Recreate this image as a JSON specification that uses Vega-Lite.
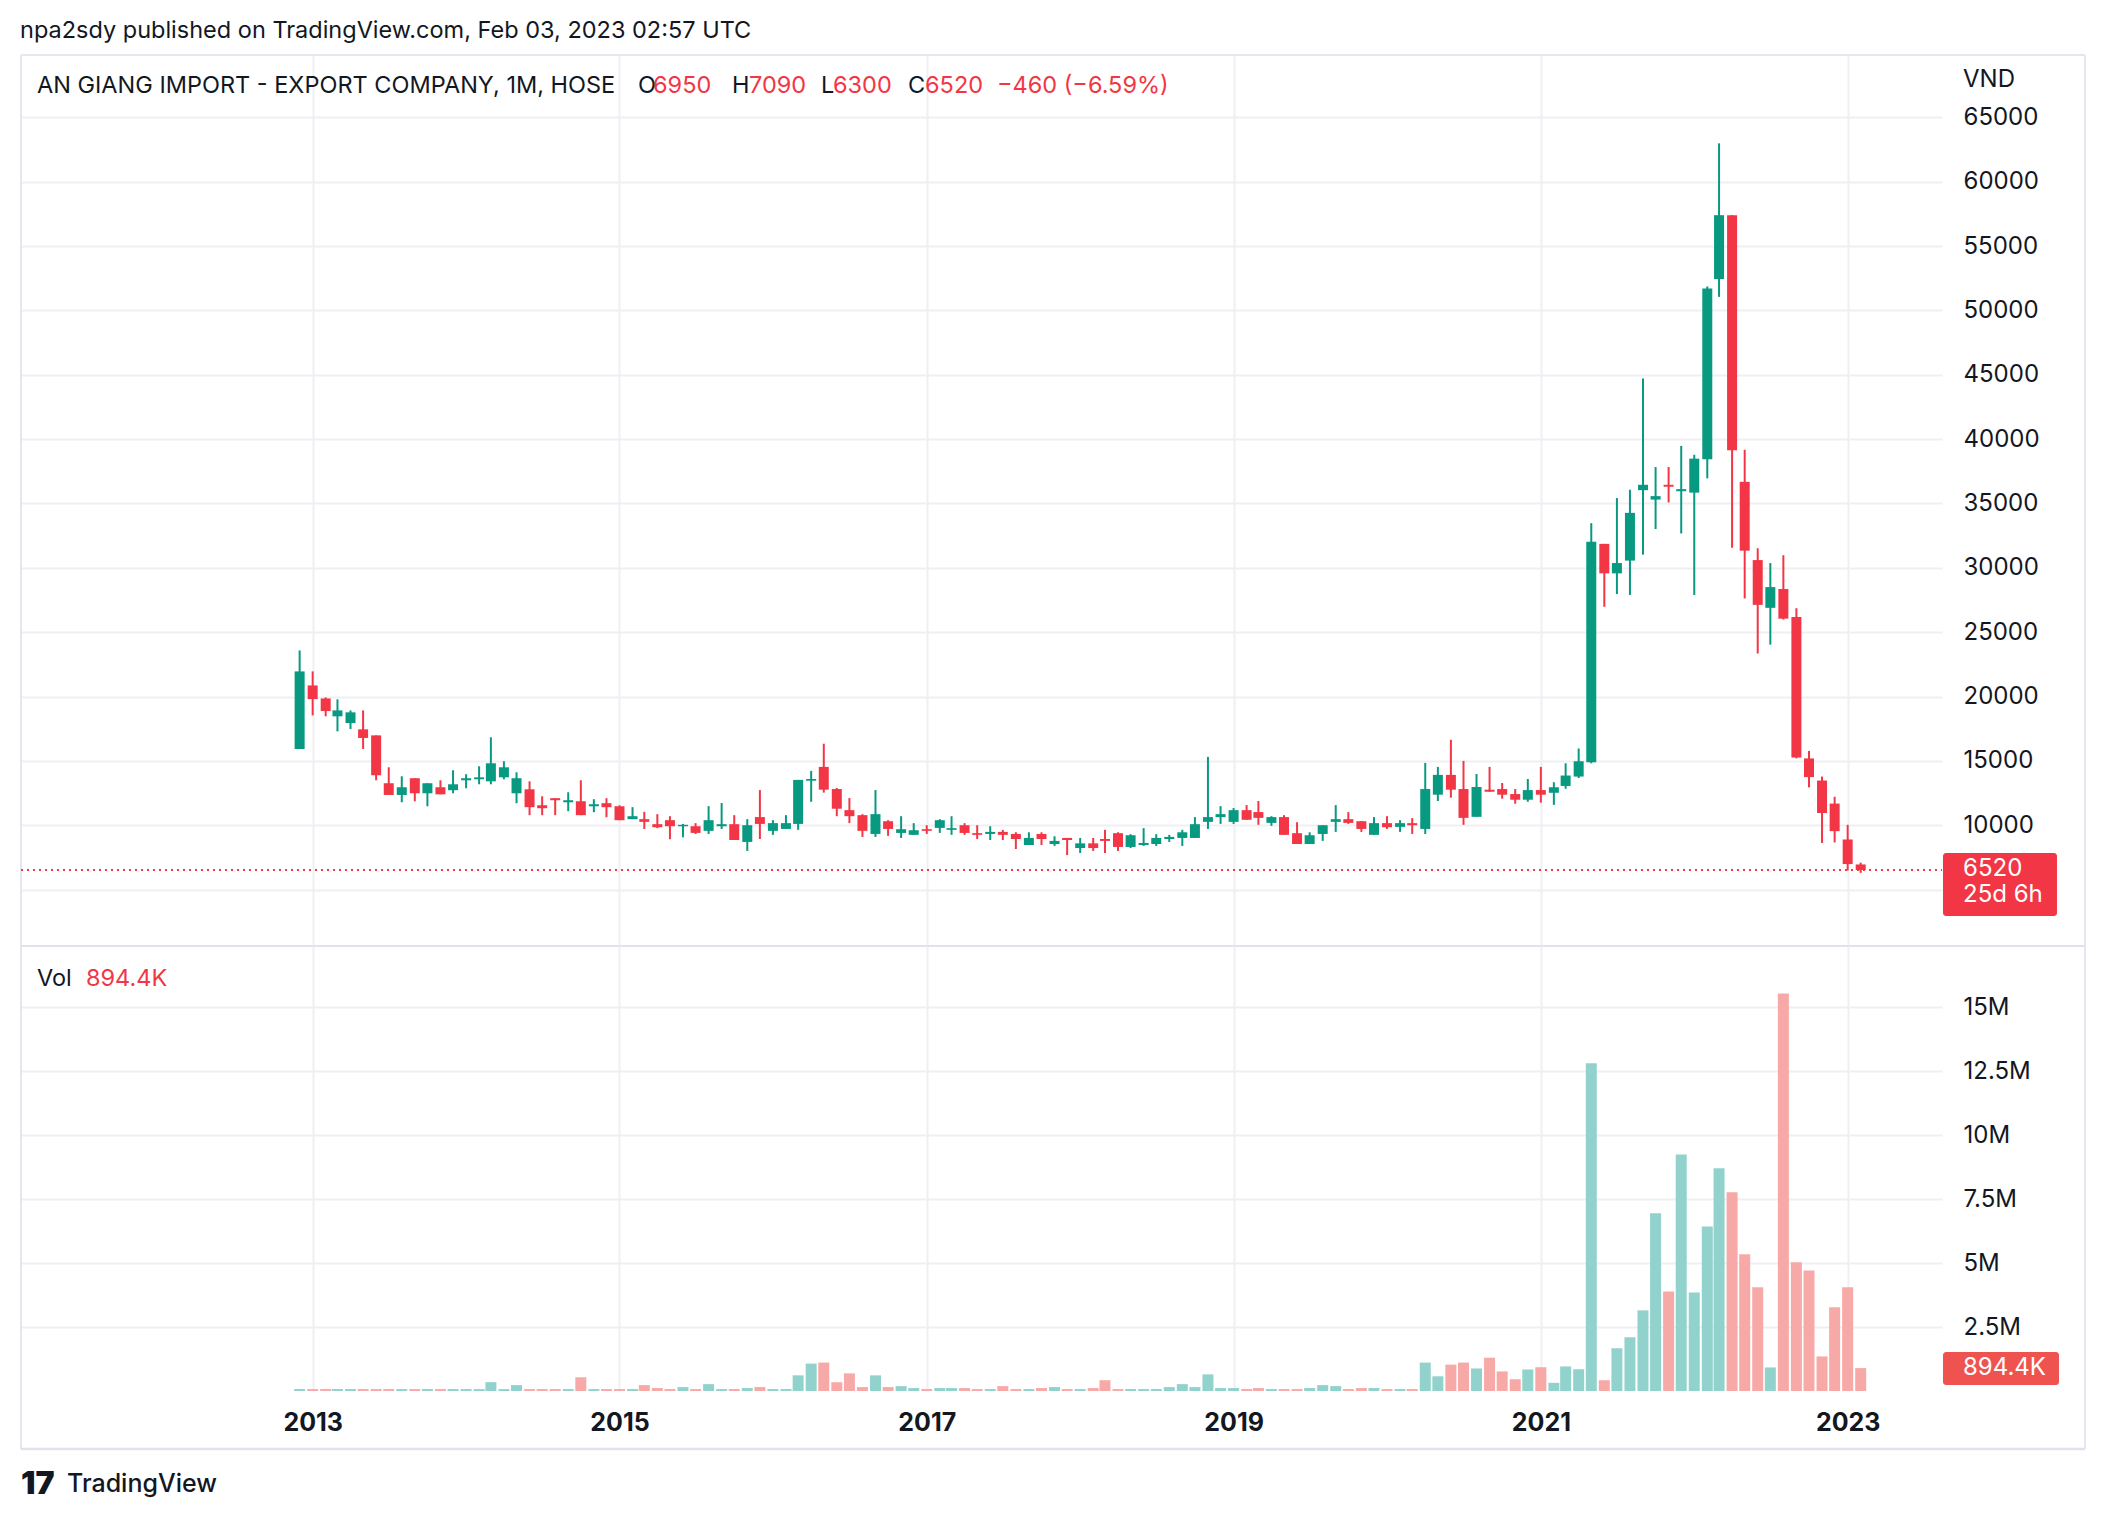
{
  "$schema": "https://vega.github.io/schema/vega-lite/v6.json",
  "padding": 0,
  "spacing": 0,
  "bounds": "flush",
  "background": "white",
  "config": {
    "view": {"stroke": null},
    "font": "Inter",
    "scale": {"continuousPadding": 0},
    "axis": {"labelFont": "Inter", "labelColor": "#131722", "labelFontSize": 24, "gridColor": "#F0F0F3", "gridWidth": 2, "domain": false, "ticks": false, "tickSize": 0}
  },
  "datasets": {
    "ohlc": [
      {"d": "2012-12-01T00:00", "o": 15920, "h": 23580, "l": 15920, "c": 21950, "v": 75000},
      {"d": "2013-01-01T00:00", "o": 20860, "h": 21950, "l": 18530, "c": 19800, "v": 75000},
      {"d": "2013-02-01T00:00", "o": 19850, "h": 19930, "l": 18460, "c": 18870, "v": 75000},
      {"d": "2013-03-01T00:00", "o": 18460, "h": 19780, "l": 17290, "c": 18920, "v": 75000},
      {"d": "2013-04-01T00:00", "o": 17940, "h": 18920, "l": 17470, "c": 18770, "v": 75000},
      {"d": "2013-05-01T00:00", "o": 17450, "h": 18920, "l": 15920, "c": 16780, "v": 75000},
      {"d": "2013-06-01T00:00", "o": 16980, "h": 16980, "l": 13490, "c": 13880, "v": 75000},
      {"d": "2013-07-01T00:00", "o": 13260, "h": 14500, "l": 12350, "c": 12350, "v": 75000},
      {"d": "2013-08-01T00:00", "o": 12350, "h": 13800, "l": 11780, "c": 12950, "v": 75000},
      {"d": "2013-09-01T00:00", "o": 13650, "h": 13650, "l": 11860, "c": 12480, "v": 75000},
      {"d": "2013-10-01T00:00", "o": 12480, "h": 13260, "l": 11470, "c": 13260, "v": 75000},
      {"d": "2013-11-01T00:00", "o": 12950, "h": 13490, "l": 12400, "c": 12400, "v": 75000},
      {"d": "2013-12-01T00:00", "o": 12720, "h": 14270, "l": 12480, "c": 13180, "v": 75000},
      {"d": "2014-01-01T00:00", "o": 13490, "h": 13960, "l": 12870, "c": 13650, "v": 75000},
      {"d": "2014-02-01T00:00", "o": 13570, "h": 14580, "l": 13180, "c": 13720, "v": 75000},
      {"d": "2014-03-01T00:00", "o": 13410, "h": 16830, "l": 13180, "c": 14810, "v": 344000},
      {"d": "2014-04-01T00:00", "o": 13720, "h": 14970, "l": 13570, "c": 14500, "v": 75000},
      {"d": "2014-05-01T00:00", "o": 12480, "h": 14110, "l": 11710, "c": 13650, "v": 230000},
      {"d": "2014-06-01T00:00", "o": 12790, "h": 13410, "l": 10780, "c": 11400, "v": 75000},
      {"d": "2014-07-01T00:00", "o": 11550, "h": 12250, "l": 10780, "c": 11320, "v": 75000},
      {"d": "2014-08-01T00:00", "o": 12100, "h": 12100, "l": 10780, "c": 11940, "v": 75000},
      {"d": "2014-09-01T00:00", "o": 11780, "h": 12560, "l": 11090, "c": 11940, "v": 75000},
      {"d": "2014-10-01T00:00", "o": 11860, "h": 13490, "l": 10780, "c": 10780, "v": 536000},
      {"d": "2014-11-01T00:00", "o": 11470, "h": 12020, "l": 11010, "c": 11630, "v": 75000},
      {"d": "2014-12-01T00:00", "o": 11710, "h": 12100, "l": 10620, "c": 11400, "v": 75000},
      {"d": "2015-01-01T00:00", "o": 11470, "h": 11550, "l": 10390, "c": 10390, "v": 75000},
      {"d": "2015-02-01T00:00", "o": 10470, "h": 11400, "l": 10470, "c": 10700, "v": 75000},
      {"d": "2015-03-01T00:00", "o": 10470, "h": 11040, "l": 9710, "c": 10260, "v": 230000},
      {"d": "2015-04-01T00:00", "o": 10080, "h": 10860, "l": 9770, "c": 9840, "v": 115000},
      {"d": "2015-05-01T00:00", "o": 10390, "h": 10700, "l": 8910, "c": 9920, "v": 75000},
      {"d": "2015-06-01T00:00", "o": 9920, "h": 10100, "l": 9060, "c": 10030, "v": 153000},
      {"d": "2015-07-01T00:00", "o": 9920, "h": 10160, "l": 9320, "c": 9400, "v": 75000},
      {"d": "2015-08-01T00:00", "o": 9560, "h": 11480, "l": 9320, "c": 10390, "v": 268000},
      {"d": "2015-09-01T00:00", "o": 9920, "h": 11720, "l": 9710, "c": 10080, "v": 75000},
      {"d": "2015-10-01T00:00", "o": 10080, "h": 10780, "l": 8850, "c": 8850, "v": 75000},
      {"d": "2015-11-01T00:00", "o": 8700, "h": 10470, "l": 8000, "c": 10000, "v": 115000},
      {"d": "2015-12-01T00:00", "o": 10630, "h": 12730, "l": 8930, "c": 10100, "v": 153000},
      {"d": "2016-01-01T00:00", "o": 9560, "h": 10390, "l": 9250, "c": 10160, "v": 75000},
      {"d": "2016-02-01T00:00", "o": 9710, "h": 10780, "l": 9710, "c": 10160, "v": 75000},
      {"d": "2016-03-01T00:00", "o": 10100, "h": 13520, "l": 9640, "c": 13520, "v": 612000},
      {"d": "2016-04-01T00:00", "o": 13460, "h": 14220, "l": 11820, "c": 13590, "v": 1070000},
      {"d": "2016-05-01T00:00", "o": 14530, "h": 16330, "l": 12530, "c": 12760, "v": 1110000},
      {"d": "2016-06-01T00:00", "o": 12810, "h": 12890, "l": 10700, "c": 11280, "v": 344000},
      {"d": "2016-07-01T00:00", "o": 11170, "h": 12110, "l": 10160, "c": 10700, "v": 689000},
      {"d": "2016-08-01T00:00", "o": 10780, "h": 10860, "l": 9090, "c": 9560, "v": 153000},
      {"d": "2016-09-01T00:00", "o": 9320, "h": 12730, "l": 9090, "c": 10860, "v": 612000},
      {"d": "2016-10-01T00:00", "o": 10310, "h": 10390, "l": 9170, "c": 9710, "v": 153000},
      {"d": "2016-11-01T00:00", "o": 9400, "h": 10700, "l": 9010, "c": 9690, "v": 191000},
      {"d": "2016-12-01T00:00", "o": 9250, "h": 10160, "l": 9250, "c": 9610, "v": 115000},
      {"d": "2017-01-01T00:00", "o": 9690, "h": 10000, "l": 9320, "c": 9560, "v": 75000},
      {"d": "2017-02-01T00:00", "o": 9790, "h": 10470, "l": 9400, "c": 10390, "v": 115000},
      {"d": "2017-03-01T00:00", "o": 9640, "h": 10700, "l": 9250, "c": 9770, "v": 115000},
      {"d": "2017-04-01T00:00", "o": 10000, "h": 10160, "l": 9250, "c": 9400, "v": 115000},
      {"d": "2017-05-01T00:00", "o": 9380, "h": 10000, "l": 8930, "c": 9250, "v": 75000},
      {"d": "2017-06-01T00:00", "o": 9320, "h": 9920, "l": 8850, "c": 9480, "v": 75000},
      {"d": "2017-07-01T00:00", "o": 9480, "h": 9640, "l": 8850, "c": 9250, "v": 191000},
      {"d": "2017-08-01T00:00", "o": 9320, "h": 9450, "l": 8150, "c": 8930, "v": 75000},
      {"d": "2017-09-01T00:00", "o": 8460, "h": 9450, "l": 8460, "c": 9010, "v": 75000},
      {"d": "2017-10-01T00:00", "o": 9320, "h": 9450, "l": 8460, "c": 8930, "v": 115000},
      {"d": "2017-11-01T00:00", "o": 8540, "h": 9140, "l": 8390, "c": 8780, "v": 153000},
      {"d": "2017-12-01T00:00", "o": 9010, "h": 9010, "l": 7680, "c": 8850, "v": 75000},
      {"d": "2018-01-01T00:00", "o": 8230, "h": 9010, "l": 7840, "c": 8590, "v": 75000},
      {"d": "2018-02-01T00:00", "o": 8590, "h": 9010, "l": 8000, "c": 8230, "v": 115000},
      {"d": "2018-03-01T00:00", "o": 8930, "h": 9640, "l": 7840, "c": 8780, "v": 421000},
      {"d": "2018-04-01T00:00", "o": 9380, "h": 9450, "l": 8000, "c": 8310, "v": 75000},
      {"d": "2018-05-01T00:00", "o": 8310, "h": 9300, "l": 8230, "c": 9220, "v": 75000},
      {"d": "2018-06-01T00:00", "o": 8460, "h": 9770, "l": 8390, "c": 8620, "v": 75000},
      {"d": "2018-07-01T00:00", "o": 8540, "h": 9300, "l": 8390, "c": 9010, "v": 75000},
      {"d": "2018-08-01T00:00", "o": 8930, "h": 9250, "l": 8700, "c": 9090, "v": 153000},
      {"d": "2018-09-01T00:00", "o": 9010, "h": 9640, "l": 8390, "c": 9450, "v": 268000},
      {"d": "2018-10-01T00:00", "o": 9010, "h": 10630, "l": 9010, "c": 10080, "v": 153000},
      {"d": "2018-11-01T00:00", "o": 10260, "h": 15310, "l": 9710, "c": 10630, "v": 650000},
      {"d": "2018-12-01T00:00", "o": 10630, "h": 11480, "l": 10100, "c": 10860, "v": 115000},
      {"d": "2019-01-01T00:00", "o": 10260, "h": 11330, "l": 10100, "c": 11170, "v": 115000},
      {"d": "2019-02-01T00:00", "o": 11170, "h": 11560, "l": 10420, "c": 10420, "v": 75000},
      {"d": "2019-03-01T00:00", "o": 11020, "h": 11880, "l": 10030, "c": 10570, "v": 115000},
      {"d": "2019-04-01T00:00", "o": 10180, "h": 10700, "l": 9950, "c": 10630, "v": 75000},
      {"d": "2019-05-01T00:00", "o": 10630, "h": 10780, "l": 9250, "c": 9250, "v": 75000},
      {"d": "2019-06-01T00:00", "o": 9380, "h": 10230, "l": 8540, "c": 8540, "v": 75000},
      {"d": "2019-07-01T00:00", "o": 8540, "h": 9450, "l": 8540, "c": 9220, "v": 115000},
      {"d": "2019-08-01T00:00", "o": 9320, "h": 10000, "l": 8780, "c": 10000, "v": 230000},
      {"d": "2019-09-01T00:00", "o": 10260, "h": 11560, "l": 9480, "c": 10470, "v": 191000},
      {"d": "2019-10-01T00:00", "o": 10470, "h": 11020, "l": 10100, "c": 10180, "v": 75000},
      {"d": "2019-11-01T00:00", "o": 10310, "h": 10310, "l": 9480, "c": 9710, "v": 115000},
      {"d": "2019-12-01T00:00", "o": 9250, "h": 10630, "l": 9250, "c": 10160, "v": 115000},
      {"d": "2020-01-01T00:00", "o": 10160, "h": 10700, "l": 9710, "c": 9840, "v": 75000},
      {"d": "2020-02-01T00:00", "o": 9870, "h": 10390, "l": 9480, "c": 10160, "v": 75000},
      {"d": "2020-03-01T00:00", "o": 10160, "h": 10550, "l": 9320, "c": 10000, "v": 75000},
      {"d": "2020-04-01T00:00", "o": 9710, "h": 14840, "l": 9320, "c": 12810, "v": 1110000},
      {"d": "2020-05-01T00:00", "o": 12370, "h": 14530, "l": 11880, "c": 13910, "v": 574000},
      {"d": "2020-06-01T00:00", "o": 13910, "h": 16640, "l": 12140, "c": 12760, "v": 1030000},
      {"d": "2020-07-01T00:00", "o": 12810, "h": 15000, "l": 10030, "c": 10570, "v": 1110000},
      {"d": "2020-08-01T00:00", "o": 10650, "h": 13980, "l": 10650, "c": 12970, "v": 880000},
      {"d": "2020-09-01T00:00", "o": 12760, "h": 14530, "l": 12600, "c": 12600, "v": 1300000},
      {"d": "2020-10-01T00:00", "o": 12810, "h": 13280, "l": 12060, "c": 12370, "v": 765000},
      {"d": "2020-11-01T00:00", "o": 12420, "h": 12810, "l": 11670, "c": 11980, "v": 459000},
      {"d": "2020-12-01T00:00", "o": 11980, "h": 13590, "l": 11820, "c": 12730, "v": 842000},
      {"d": "2021-01-01T00:00", "o": 12730, "h": 14530, "l": 11750, "c": 12370, "v": 930000},
      {"d": "2021-02-01T00:00", "o": 12520, "h": 13340, "l": 11580, "c": 12950, "v": 320000},
      {"d": "2021-03-01T00:00", "o": 13050, "h": 14810, "l": 12830, "c": 13860, "v": 960000},
      {"d": "2021-04-01T00:00", "o": 13780, "h": 15960, "l": 13670, "c": 14970, "v": 850000},
      {"d": "2021-05-01T00:00", "o": 14890, "h": 33470, "l": 14810, "c": 32020, "v": 12800000},
      {"d": "2021-06-01T00:00", "o": 31860, "h": 31860, "l": 26970, "c": 29570, "v": 420000},
      {"d": "2021-07-01T00:00", "o": 29570, "h": 35420, "l": 27960, "c": 30370, "v": 1670000},
      {"d": "2021-08-01T00:00", "o": 30560, "h": 36070, "l": 27890, "c": 34270, "v": 2100000},
      {"d": "2021-09-01T00:00", "o": 36030, "h": 44710, "l": 31020, "c": 36450, "v": 3150000},
      {"d": "2021-10-01T00:00", "o": 35300, "h": 37830, "l": 33010, "c": 35570, "v": 6940000},
      {"d": "2021-11-01T00:00", "o": 36450, "h": 37830, "l": 35080, "c": 36300, "v": 3890000},
      {"d": "2021-12-01T00:00", "o": 35950, "h": 39470, "l": 32670, "c": 36110, "v": 9240000},
      {"d": "2022-01-01T00:00", "o": 35840, "h": 38780, "l": 27890, "c": 38480, "v": 3850000},
      {"d": "2022-02-01T00:00", "o": 38440, "h": 51860, "l": 36950, "c": 51700, "v": 6430000},
      {"d": "2022-03-01T00:00", "o": 52430, "h": 62980, "l": 51050, "c": 57400, "v": 8700000},
      {"d": "2022-04-01T00:00", "o": 57400, "h": 57400, "l": 31560, "c": 39130, "v": 7760000},
      {"d": "2022-05-01T00:00", "o": 36680, "h": 39170, "l": 27620, "c": 31330, "v": 5340000},
      {"d": "2022-06-01T00:00", "o": 30600, "h": 31520, "l": 23340, "c": 27120, "v": 4050000},
      {"d": "2022-07-01T00:00", "o": 26890, "h": 30370, "l": 24030, "c": 28500, "v": 920000},
      {"d": "2022-08-01T00:00", "o": 28350, "h": 30980, "l": 25980, "c": 26050, "v": 15530000},
      {"d": "2022-09-01T00:00", "o": 26170, "h": 26860, "l": 15190, "c": 15270, "v": 5030000},
      {"d": "2022-10-01T00:00", "o": 15190, "h": 15770, "l": 12940, "c": 13740, "v": 4710000},
      {"d": "2022-11-01T00:00", "o": 13470, "h": 13780, "l": 8620, "c": 10950, "v": 1350000},
      {"d": "2022-12-01T00:00", "o": 11680, "h": 12210, "l": 8660, "c": 9540, "v": 3270000},
      {"d": "2023-01-01T00:00", "o": 8890, "h": 10030, "l": 6480, "c": 6980, "v": 4050000},
      {"d": "2023-02-01T00:00", "o": 6950, "h": 7090, "l": 6300, "c": 6520, "v": 894400}
    ]
  },
  "vconcat": [
    {
      "width": 1921,
      "height": 891,
      "layer": [
        {
          "data": {"name": "ohlc"},
          "mark": {"type": "rule", "strokeWidth": 2},
          "encoding": {
            "x": {"field": "d", "type": "temporal",
              "scale": {"domain": [{"year": 2011, "month": 2, "date": 7, "hours": 2}, {"year": 2023, "month": 8, "date": 13, "hours": 10}], "padding": 0},
              "axis": {"values": [{"year": 2013}, {"year": 2015}, {"year": 2017}, {"year": 2019}, {"year": 2021}, {"year": 2023}], "labels": false, "ticks": false, "domain": false, "grid": true, "title": null}},
            "y": {"field": "l", "type": "quantitative",
              "scale": {"domain": [614, 69845], "zero": false, "nice": false, "padding": 0},
              "axis": {"orient": "right", "values": [5000, 10000, 15000, 20000, 25000, 30000, 35000, 40000, 45000, 50000, 55000, 60000, 65000], "format": "d", "labelExpr": "datum.value < 10000 ? '' : datum.label", "labelPadding": 21, "labelAlign": "left", "ticks": false, "domain": false, "title": null}},
            "y2": {"field": "h"},
            "color": {"condition": {"test": "datum.c >= datum.o", "value": "#089981"}, "value": "#F23645"}
          }
        },
        {
          "data": {"name": "ohlc"},
          "mark": {"type": "bar", "size": 10},
          "encoding": {
            "x": {"field": "d", "type": "temporal"},
            "y": {"field": "o", "type": "quantitative"},
            "y2": {"field": "c"},
            "color": {"condition": {"test": "datum.c >= datum.o", "value": "#089981"}, "value": "#F23645"}
          }
        },
        {
          "data": {"values": [{}]},
          "mark": {"type": "rect", "opacity": 0},
          "encoding": {
            "x": {"datum": {"year": 2010, "month": 12, "date": 21, "hours": 12}, "type": "temporal"},
            "x2": {"datum": {"year": 2024, "month": 9, "date": 8, "hours": 22}},
            "y": {"datum": 74041, "type": "quantitative"},
            "y2": {"datum": 614}
          }
        },
        {
          "data": {"values": [{}]},
          "mark": {"type": "rule", "color": "#E6E7EE", "strokeWidth": 2},
          "encoding": {
            "x": {"datum": {"year": 2011, "month": 2, "date": 7, "hours": 2}, "type": "temporal"},
            "x2": {"datum": {"year": 2024, "month": 7, "date": 18, "hours": 14}},
            "y": {"datum": 69845, "type": "quantitative"}
          }
        },
        {
          "data": {"values": [{}]},
          "mark": {"type": "rule", "color": "#E0E3EB", "strokeWidth": 2},
          "encoding": {
            "x": {"datum": {"year": 2011, "month": 2, "date": 7, "hours": 2}, "type": "temporal"},
            "x2": {"datum": {"year": 2024, "month": 7, "date": 18, "hours": 14}},
            "y": {"datum": 614, "type": "quantitative"}
          }
        },
        {
          "data": {"values": [{}]},
          "mark": {"type": "rule", "color": "#E6E7EE", "strokeWidth": 2},
          "encoding": {
            "x": {"datum": {"year": 2011, "month": 2, "date": 7, "hours": 2}, "type": "temporal"},
            "y": {"datum": 69845, "type": "quantitative"},
            "y2": {"datum": 614}
          }
        },
        {
          "data": {"values": [{}]},
          "mark": {"type": "rule", "color": "#E6E7EE", "strokeWidth": 2},
          "encoding": {
            "x": {"datum": {"year": 2024, "month": 7, "date": 18, "hours": 14}, "type": "temporal"},
            "y": {"datum": 69845, "type": "quantitative"},
            "y2": {"datum": 614}
          }
        },
        {
          "data": {"values": [{}]},
          "mark": {"type": "rule", "color": "#F23645", "strokeWidth": 2, "strokeDash": [2, 4]},
          "encoding": {
            "x": {"datum": {"year": 2011, "month": 2, "date": 7, "hours": 2}, "type": "temporal"},
            "x2": {"datum": {"year": 2023, "month": 8, "date": 13, "hours": 10}},
            "y": {"datum": 6520, "type": "quantitative"}
          }
        },
        {
          "data": {"values": [{}]},
          "mark": {"type": "rect", "color": "#F23645", "cornerRadius": 3},
          "encoding": {
            "x": {"datum": {"year": 2023, "month": 8, "date": 15, "hours": 19}, "type": "temporal"},
            "x2": {"datum": {"year": 2024, "month": 5, "date": 13}},
            "y": {"datum": 7840, "type": "quantitative"},
            "y2": {"datum": 2945}
          }
        },
        {
          "data": {"values": [{}]},
          "mark": {"type": "text", "align": "left", "baseline": "middle", "fontSize": 24, "color": "#FFFFFF"},
          "encoding": {
            "x": {"datum": {"year": 2023, "month": 10, "date": 2, "hours": 10}, "type": "temporal"},
            "y": {"datum": 6597, "type": "quantitative"},
            "text": {"value": "6520"}
          }
        },
        {
          "data": {"values": [{}]},
          "mark": {"type": "text", "align": "left", "baseline": "middle", "fontSize": 24, "color": "#FFFFFF"},
          "encoding": {
            "x": {"datum": {"year": 2023, "month": 10, "date": 2, "hours": 10}, "type": "temporal"},
            "y": {"datum": 4538, "type": "quantitative"},
            "text": {"value": "25d 6h"}
          }
        },
        {
          "data": {"values": [{}]},
          "mark": {"type": "text", "align": "left", "baseline": "middle", "fontSize": 24, "color": "#131722"},
          "encoding": {
            "x": {"datum": {"year": 2023, "month": 10, "date": 2, "hours": 10}, "type": "temporal"},
            "y": {"datum": 67902, "type": "quantitative"},
            "text": {"value": "VND"}
          }
        },
        {
          "data": {"values": [{}]},
          "mark": {"type": "text", "align": "left", "baseline": "middle", "fontSize": 23.5, "color": "#131722"},
          "encoding": {
            "x": {"datum": {"year": 2011, "month": 2, "date": 4, "hours": 17}, "type": "temporal"},
            "y": {"datum": 71709, "type": "quantitative"},
            "text": {"value": "npa2sdy published on TradingView.com, Feb 03, 2023 02:57 UTC"}
          }
        },
        {
          "data": {"values": [{}]},
          "mark": {"type": "text", "align": "left", "baseline": "middle", "fontSize": 23.5, "color": "#131722"},
          "encoding": {
            "x": {"datum": {"year": 2011, "month": 3, "date": 17, "hours": 2}, "type": "temporal"},
            "y": {"datum": 67433, "type": "quantitative"},
            "text": {"value": "AN GIANG IMPORT - EXPORT COMPANY, 1M, HOSE"}
          }
        },
        {
          "data": {"values": [{}]},
          "mark": {"type": "text", "align": "left", "baseline": "middle", "fontSize": 23.5, "color": "#131722"},
          "encoding": {
            "x": {"datum": {"year": 2015, "month": 2, "date": 14}, "type": "temporal"},
            "y": {"datum": 67433, "type": "quantitative"},
            "text": {"value": "O"}
          }
        },
        {
          "data": {"values": [{}]},
          "mark": {"type": "text", "align": "left", "baseline": "middle", "fontSize": 23.5, "color": "#F23645"},
          "encoding": {
            "x": {"datum": {"year": 2015, "month": 3, "date": 21, "hours": 16}, "type": "temporal"},
            "y": {"datum": 67433, "type": "quantitative"},
            "text": {"value": "6950"}
          }
        },
        {
          "data": {"values": [{}]},
          "mark": {"type": "text", "align": "left", "baseline": "middle", "fontSize": 23.5, "color": "#131722"},
          "encoding": {
            "x": {"datum": {"year": 2015, "month": 9, "date": 25, "hours": 14}, "type": "temporal"},
            "y": {"datum": 67433, "type": "quantitative"},
            "text": {"value": "H"}
          }
        },
        {
          "data": {"values": [{}]},
          "mark": {"type": "text", "align": "left", "baseline": "middle", "fontSize": 23.5, "color": "#F23645"},
          "encoding": {
            "x": {"datum": {"year": 2015, "month": 11, "date": 5, "hours": 2}, "type": "temporal"},
            "y": {"datum": 67433, "type": "quantitative"},
            "text": {"value": "7090"}
          }
        },
        {
          "data": {"values": [{}]},
          "mark": {"type": "text", "align": "left", "baseline": "middle", "fontSize": 23.5, "color": "#131722"},
          "encoding": {
            "x": {"datum": {"year": 2016, "month": 4, "date": 24, "hours": 10}, "type": "temporal"},
            "y": {"datum": 67433, "type": "quantitative"},
            "text": {"value": "L"}
          }
        },
        {
          "data": {"values": [{}]},
          "mark": {"type": "text", "align": "left", "baseline": "middle", "fontSize": 23.5, "color": "#F23645"},
          "encoding": {
            "x": {"datum": {"year": 2016, "month": 5, "date": 23}, "type": "temporal"},
            "y": {"datum": 67433, "type": "quantitative"},
            "text": {"value": "6300"}
          }
        },
        {
          "data": {"values": [{}]},
          "mark": {"type": "text", "align": "left", "baseline": "middle", "fontSize": 23.5, "color": "#131722"},
          "encoding": {
            "x": {"datum": {"year": 2016, "month": 11, "date": 17, "hours": 10}, "type": "temporal"},
            "y": {"datum": 67433, "type": "quantitative"},
            "text": {"value": "C"}
          }
        },
        {
          "data": {"values": [{}]},
          "mark": {"type": "text", "align": "left", "baseline": "middle", "fontSize": 23.5, "color": "#F23645"},
          "encoding": {
            "x": {"datum": {"year": 2016, "month": 12, "date": 27, "hours": 22}, "type": "temporal"},
            "y": {"datum": 67433, "type": "quantitative"},
            "text": {"value": "6520"}
          }
        },
        {
          "data": {"values": [{}]},
          "mark": {"type": "text", "align": "left", "baseline": "middle", "fontSize": 23.5, "color": "#F23645"},
          "encoding": {
            "x": {"datum": {"year": 2017, "month": 6, "date": 17, "hours": 5}, "type": "temporal"},
            "y": {"datum": 67433, "type": "quantitative"},
            "text": {"value": "−460 (−6.59%)"}
          }
        }
      ]
    },
    {
      "width": 1921,
      "height": 445,
      "layer": [
        {
          "data": {"name": "ohlc"},
          "mark": {"type": "bar", "size": 11},
          "encoding": {
            "x": {"field": "d", "type": "temporal",
              "scale": {"domain": [{"year": 2011, "month": 2, "date": 7, "hours": 2}, {"year": 2023, "month": 8, "date": 13, "hours": 10}], "padding": 0},
              "axis": {"orient": "bottom", "values": [{"year": 2013}, {"year": 2015}, {"year": 2017}, {"year": 2019}, {"year": 2021}, {"year": 2023}], "format": "%Y", "labelFontSize": 25, "labelFontWeight": 700, "labelPadding": 31, "labelBaseline": "middle", "ticks": false, "tickSize": 0, "domain": false, "grid": true, "title": null}},
            "y": {"field": "v", "type": "quantitative",
              "scale": {"domain": [0, 17383000], "nice": false, "padding": 0},
              "axis": {"orient": "right", "values": [2500000, 5000000, 7500000, 10000000, 12500000, 15000000], "labelExpr": "(datum.value / 1000000) + 'M'", "labelPadding": 21, "labelAlign": "left", "ticks": false, "domain": false, "title": null}},
            "color": {"condition": {"test": "datum.c >= datum.o", "value": "#92D2CC"}, "value": "#F7A9A7"}
          }
        },
        {
          "data": {"values": [{}]},
          "mark": {"type": "rule", "color": "#E6E7EE", "strokeWidth": 2},
          "encoding": {
            "x": {"datum": {"year": 2011, "month": 2, "date": 7, "hours": 2}, "type": "temporal"},
            "y": {"datum": 17383000, "type": "quantitative"},
            "y2": {"datum": -2266000}
          }
        },
        {
          "data": {"values": [{}]},
          "mark": {"type": "rule", "color": "#E6E7EE", "strokeWidth": 2},
          "encoding": {
            "x": {"datum": {"year": 2024, "month": 7, "date": 18, "hours": 14}, "type": "temporal"},
            "y": {"datum": 17383000, "type": "quantitative"},
            "y2": {"datum": -2266000}
          }
        },
        {
          "data": {"values": [{}]},
          "mark": {"type": "rule", "color": "#E0E3EB", "strokeWidth": 2.5},
          "encoding": {
            "x": {"datum": {"year": 2011, "month": 2, "date": 7, "hours": 2}, "type": "temporal"},
            "x2": {"datum": {"year": 2024, "month": 7, "date": 18, "hours": 14}},
            "y": {"datum": -2266000, "type": "quantitative"}
          }
        },
        {
          "data": {"values": [{}]},
          "mark": {"type": "rect", "color": "#EF5350", "cornerRadius": 3},
          "encoding": {
            "x": {"datum": {"year": 2023, "month": 8, "date": 15, "hours": 19}, "type": "temporal"},
            "x2": {"datum": {"year": 2024, "month": 5, "date": 17, "hours": 19}},
            "y": {"datum": 1523000, "type": "quantitative"},
            "y2": {"datum": 234000}
          }
        },
        {
          "data": {"values": [{}]},
          "mark": {"type": "text", "align": "left", "baseline": "middle", "fontSize": 24, "color": "#FFFFFF"},
          "encoding": {
            "x": {"datum": {"year": 2023, "month": 10, "date": 2, "hours": 10}, "type": "temporal"},
            "y": {"datum": 879000, "type": "quantitative"},
            "text": {"value": "894.4K"}
          }
        },
        {
          "data": {"values": [{}]},
          "mark": {"type": "text", "align": "left", "baseline": "middle", "fontSize": 23.5, "color": "#131722"},
          "encoding": {
            "x": {"datum": {"year": 2011, "month": 3, "date": 17, "hours": 2}, "type": "temporal"},
            "y": {"datum": 16094000, "type": "quantitative"},
            "text": {"value": "Vol"}
          }
        },
        {
          "data": {"values": [{}]},
          "mark": {"type": "text", "align": "left", "baseline": "middle", "fontSize": 23.5, "color": "#F23645"},
          "encoding": {
            "x": {"datum": {"year": 2011, "month": 7, "date": 11, "hours": 17}, "type": "temporal"},
            "y": {"datum": 16094000, "type": "quantitative"},
            "text": {"value": "894.4K"}
          }
        },
        {
          "data": {"values": [{}]},
          "mark": {"type": "text", "align": "left", "baseline": "middle", "fontSize": 32, "fontWeight": 900, "color": "#131722"},
          "encoding": {
            "x": {"datum": {"year": 2011, "month": 2, "date": 7, "hours": 2}, "type": "temporal"},
            "y": {"datum": -3633000, "type": "quantitative"},
            "text": {"value": "17"}
          }
        },
        {
          "data": {"values": [{}]},
          "mark": {"type": "text", "align": "left", "baseline": "middle", "fontSize": 25, "fontWeight": 500, "color": "#131722"},
          "encoding": {
            "x": {"datum": {"year": 2011, "month": 5, "date": 27, "hours": 12}, "type": "temporal"},
            "y": {"datum": -3633000, "type": "quantitative"},
            "text": {"value": "TradingView"}
          }
        }
      ]
    }
  ]
}
